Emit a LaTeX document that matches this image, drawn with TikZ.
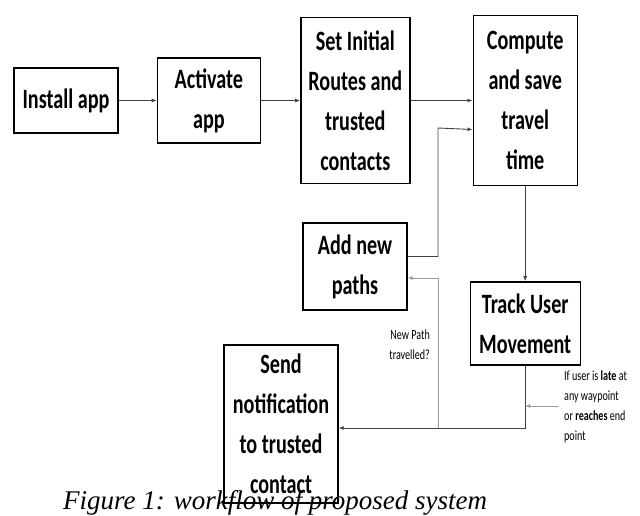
\documentclass[tikz,border=0pt]{standalone}
\usepackage{fontspec}
\setmainfont{Liberation Serif}
\newfontfamily\boxfont[FakeStretch=0.72]{Carlito}
\usetikzlibrary{positioning,arrows.meta}

\begin{document}
\begin{tikzpicture}[x=1pt, y=-1pt,
        proc/.style = {draw, line width=1.4pt, align=center, inner sep=0pt,
            font=\boxfont\bfseries\fontsize{28}{40}\selectfont},
        flow/.style = {draw=black!75, line width=0.9pt, -{Latex[length=5pt,width=4pt]}},
        back/.style = {draw=black!40, line width=0.9pt, -{Latex[length=5pt,width=4pt]}},
        note/.style = {inner sep=0pt, font=\boxfont\fontsize{14}{20}\selectfont}]
        \useasboundingbox (0,0) rectangle (640,515);
        % top row
        \node[proc, minimum width=104pt, minimum height=65pt] (install) at (66,100.5) {Install app};
        \node[proc, minimum width=103pt, minimum height=85pt] (activate) [right=38pt of install] {Activate\\app};
        \node[proc, minimum width=109pt, minimum height=166pt] (routes) [right=39pt of activate] {Set Initial\\Routes and\\trusted\\contacts};
        \node[proc, minimum width=104pt, minimum height=170pt] (compute) [right=62pt of routes] {Compute\\and save\\travel\\time};
        % lower part
        \node[proc, minimum width=104pt, minimum height=87pt] (addpaths) at (355,266.5) {Add new\\paths};
        \node[proc, minimum width=110pt, minimum height=83pt] (track) [below=95pt of compute] {Track User\\Movement};
        \node[proc, minimum width=114pt, minimum height=158pt] (send) at (281,424) {Send\\notification\\to trusted\\contact};
        \node[note, align=right, anchor=north east] (newpath) at (430,330) {New Path\\travelled?};
        \node[note, align=left, anchor=north west] (late) at (564,370) {If user is \textbf{late} at\\any waypoint\\or \textbf{reaches} end\\point};
        \node[anchor=base west, inner sep=0pt, font=\itshape\fontsize{27}{30}\selectfont] (caption) at (63,509) {Figure 1: workflow of proposed system};
        \coordinate (fork) at (438,428);
        \coordinate (latein) at (558,406);
        \draw[flow] (install) -- (activate);
        \draw[flow] (activate) -- (activate -| routes.west);
        \draw[flow] (routes) -- (routes -| compute.west);
        \draw[flow] ([yshift=10pt]addpaths.east) -| (438,128) -- ([yshift=-29pt]compute.west);
        \draw[flow] (compute) -- (track);
        \draw[flow] (track.south) |- ([yshift=-4pt]send.east);
        \draw[back] (fork) |- ([yshift=-11.5pt]addpaths.east);
        \draw[back] (latein) -- (latein -| track.south);
    \end{tikzpicture}
\end{document}
